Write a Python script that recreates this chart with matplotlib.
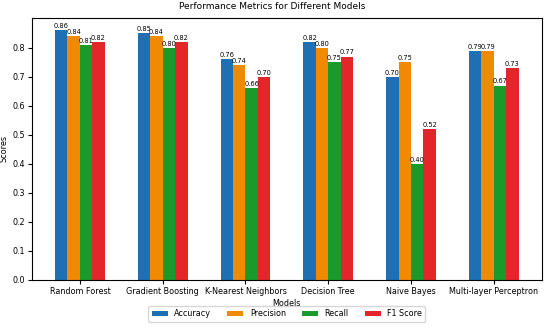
import matplotlib
matplotlib.use("Agg")
import matplotlib.pyplot as plt
import numpy as np

models = ["Random Forest", "Gradient Boosting", "K-Nearest Neighbors", "Decision Tree", "Naive Bayes", "Multi-layer Perceptron"]
accuracy = [0.86, 0.85, 0.76, 0.82, 0.70, 0.79]
precision = [0.84, 0.84, 0.74, 0.80, 0.75, 0.79]
recall = [0.81, 0.80, 0.66, 0.75, 0.40, 0.67]
f1 = [0.82, 0.82, 0.70, 0.77, 0.52, 0.73]
yticks = [0.0, 0.1, 0.2, 0.3, 0.4, 0.5, 0.6, 0.7, 0.8]

series = [("Accuracy", accuracy, "#1f6fb4"), ("Precision", precision, "#f08a00"),
          ("Recall", recall, "#1a9a2a"), ("F1 Score", f1, "#e2262a")]

fig, ax = plt.subplots(figsize=(5.5, 3.32), dpi=100)
x = np.arange(len(models))
w = 0.15
for i, (name, vals, c) in enumerate(series):
    bars = ax.bar(x + (i - 1.5) * w, vals, w, label=name, color=c)
    for b, v in zip(bars, vals):
        ax.text(b.get_x() + b.get_width() / 2, v + 0.004, f"{v:.2f}", ha="center", va="bottom", fontsize=4.8)

ax.set_xticks(x)
ax.set_xticklabels(models, fontsize=5.8)
ax.set_yticks(yticks)
ax.set_yticklabels([f"{t:.1f}" for t in yticks])
ax.tick_params(axis="both", labelsize=5.8, length=3, pad=2)
ax.set_ylabel("Scores", fontsize=5.8, labelpad=3)
ax.set_xlabel("Models", fontsize=5.8, labelpad=2)
fig.suptitle("Performance Metrics for Different Models", fontsize=6.5, x=0.495, y=0.995)
ax.legend(loc="upper center", bbox_to_anchor=(0.5, -0.085), ncol=4, fontsize=5.8,
          handlelength=2.0, columnspacing=2.0)
fig.subplots_adjust(left=0.058, right=0.985, top=0.946, bottom=0.157)
fig.savefig("out.png", dpi=100)
